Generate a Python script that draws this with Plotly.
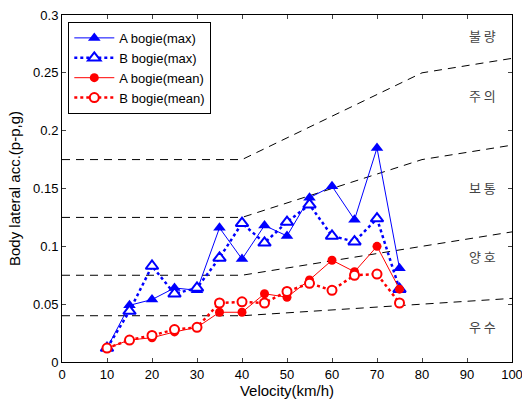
import plotly.graph_objects as go

speed = [10, 15, 20, 25, 30, 35, 40, 45, 50, 55, 60, 65, 70, 75]
a_max = [0.012, 0.049, 0.054, 0.064, 0.062, 0.116, 0.089, 0.118, 0.109, 0.142, 0.152, 0.123, 0.185, 0.081]
b_max = [0.012, 0.044, 0.083, 0.059, 0.064, 0.090, 0.120, 0.103, 0.121, 0.136, 0.109, 0.104, 0.124, 0.063]
a_mean = [0.012, 0.019, 0.021, 0.026, 0.030, 0.043, 0.043, 0.059, 0.056, 0.071, 0.088, 0.078, 0.100, 0.063]
b_mean = [0.012, 0.019, 0.023, 0.028, 0.030, 0.051, 0.052, 0.051, 0.061, 0.068, 0.062, 0.075, 0.076, 0.051]

limit_x = [0, 40, 80, 100]
limit_lines = [
    [0.04, 0.04, 0.05, 0.055],
    [0.075, 0.075, 0.10, 0.1125],
    [0.125, 0.125, 0.175, 0.1875],
    [0.175, 0.175, 0.25, 0.2625],
]
zone_labels = ["불 량", "주 의", "보 통", "양 호", "우 수"]
zone_label_y = [0.282, 0.230, 0.151, 0.091, 0.031]
zone_label_x = 93.5

fig = go.Figure()

for ly in limit_lines:
    fig.add_trace(go.Scatter(x=limit_x, y=ly, mode="lines", showlegend=False,
                             line=dict(color="black", width=1, dash="8px,6px"),
                             hoverinfo="skip"))

fig.add_trace(go.Scatter(x=speed, y=a_max, mode="lines+markers", name="A bogie(max)",
                         line=dict(color="#0000ff", width=1),
                         marker=dict(symbol="triangle-up", size=11, color="#0000ff")))
fig.add_trace(go.Scatter(x=speed, y=b_max, mode="lines+markers", name="B bogie(max)",
                         line=dict(color="#0000ff", width=2.5, dash="dot"),
                         marker=dict(symbol="triangle-up", size=11, color="white",
                                     line=dict(width=2, color="#0000ff"))))
fig.add_trace(go.Scatter(x=speed, y=a_mean, mode="lines+markers", name="A bogie(mean)",
                         line=dict(color="#ff0000", width=1),
                         marker=dict(symbol="circle", size=9, color="#ff0000")))
fig.add_trace(go.Scatter(x=speed, y=b_mean, mode="lines+markers", name="B bogie(mean)",
                         line=dict(color="#ff0000", width=2.5, dash="dot"),
                         marker=dict(symbol="circle", size=9, color="white",
                                     line=dict(width=2, color="#ff0000"))))

for txt, yv in zip(zone_labels, zone_label_y):
    fig.add_annotation(x=zone_label_x, y=yv, text=txt, showarrow=False,
                       font=dict(family="Noto Sans CJK KR", size=13, color="#444444"))

fig.update_layout(
    width=522, height=401,
    margin=dict(l=62, r=10, t=15, b=39, autoexpand=False),
    paper_bgcolor="white", plot_bgcolor="white",
    font=dict(family="Liberation Sans, Arial", size=13, color="black"),
    legend=dict(x=0.014, y=0.98, xanchor="left", yanchor="top",
                bordercolor="black", borderwidth=1, bgcolor="white",
                font=dict(size=13), tracegroupgap=0, itemwidth=40),
    xaxis=dict(range=[0, 100], dtick=10, ticks="inside", ticklen=4, mirror="allticks",
               showline=True, linecolor="black", linewidth=1, showgrid=False, zeroline=False,
               automargin=False, ticklabeloverflow="allow",
               title=dict(text="Velocity(km/h)", font=dict(size=15), standoff=2)),
    yaxis=dict(range=[0, 0.3], dtick=0.05, ticks="inside", ticklen=4, mirror="allticks",
               showline=True, linecolor="black", linewidth=1, showgrid=False, zeroline=False,
               tickformat="~g", automargin=False, ticklabeloverflow="allow",
               title=dict(text="Body lateral acc.(p-p,g)", font=dict(size=15), standoff=8)),
)

fig.write_html("out.html", config={"displayModeBar": False},
               post_script="document.body.style.margin='0';document.body.style.overflow='hidden';")
